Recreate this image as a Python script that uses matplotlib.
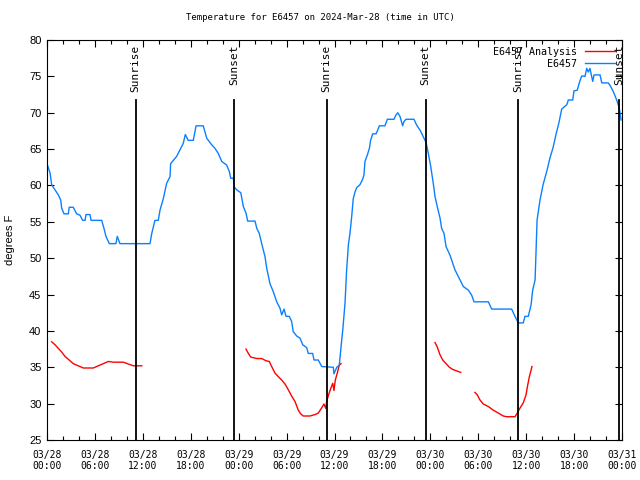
import numpy as np
import matplotlib
matplotlib.use("Agg")
import matplotlib.pyplot as plt
import matplotlib.dates as mdates
import matplotlib.transforms as mtransforms

# all times are hours after 2024-03-28 00:00 UTC
obs_hours = [0.0, 0.38, 0.59, 1.00, 1.41, 1.72, 1.84, 2.13, 2.67, 2.79, 3.29, 3.72, 4.13, 4.47,
             4.76, 4.88, 5.38, 5.51, 6.85, 7.14, 7.39, 7.80, 8.64, 8.80, 9.14, 12.90, 13.11,
             13.52, 13.94, 14.15, 14.56, 14.99, 15.40, 15.49, 16.24, 16.65, 17.07, 17.32, 17.69,
             18.32, 18.66, 19.57, 20.00, 20.62, 21.04, 21.45, 21.88, 22.50, 22.83, 23.00, 23.33,
             23.45, 23.75, 24.26, 24.58, 24.92, 25.13, 26.05, 26.26, 26.58, 26.88, 27.30, 27.51,
             27.92, 28.34, 28.76, 29.18, 29.39, 29.68, 29.93, 30.34, 30.64, 30.84, 31.27, 31.68,
             32.02, 32.52, 32.72, 33.27, 33.43, 33.97, 34.40, 35.85, 35.94, 36.28, 36.60, 36.81,
             37.03, 37.32, 37.50, 37.73, 37.94, 38.15, 38.35, 38.57, 38.78, 39.19, 39.48, 39.69,
             39.82, 40.11, 40.36, 40.53, 40.78, 41.20, 41.36, 41.61, 42.32, 42.61, 43.45, 43.70,
             43.91, 44.20, 44.54, 44.70, 44.95, 45.95, 46.29, 46.71, 47.12, 47.46, 47.75, 48.05,
             48.37, 48.58, 48.87, 49.21, 49.42, 49.71, 49.96, 50.25, 50.46, 50.80, 51.09, 51.50,
             51.72, 52.13, 52.76, 53.18, 53.47, 55.26, 55.69, 58.19, 58.60, 59.02, 59.64, 59.85,
             60.27, 60.61, 60.82, 61.11, 61.36, 61.73, 62.11, 62.61, 62.99, 63.36, 63.74, 64.12,
             64.45, 65.08, 65.28, 65.83, 65.99, 66.40, 66.65, 66.95, 67.37, 67.58, 67.78, 67.99,
             68.33, 68.50, 69.25, 69.46, 70.29, 70.59, 70.91, 71.34, 71.66, 71.88]
obs_temp = [63.0, 61.7, 60.1, 59.4, 58.7, 58.0, 56.9, 56.1, 56.1, 57.0, 57.0, 56.1, 55.9, 55.2,
            55.2, 56.0, 56.0, 55.2, 55.2, 54.1, 53.0, 52.0, 52.0, 53.0, 52.0, 52.0, 53.4,
            55.2, 55.2, 56.6, 58.2, 60.3, 61.2, 63.0, 64.0, 64.9, 65.8, 67.0, 66.2,
            66.2, 68.2, 68.2, 66.5, 65.6, 65.1, 64.4, 63.3, 62.8, 61.9, 61.0, 61.0,
            59.8, 59.4, 59.0, 57.1, 56.2, 55.1, 55.1, 54.1, 53.4, 52.0, 50.2, 48.6,
            46.5, 45.4, 44.0, 43.1, 42.2, 43.0, 42.0, 42.0, 41.3, 39.9, 39.3, 39.0,
            38.1, 37.7, 36.9, 36.9, 36.0, 36.0, 35.1, 35.0, 34.1, 35.0, 35.3, 37.8,
            40.1, 43.8, 48.0, 51.8, 53.4, 55.7, 58.2, 59.1, 59.7, 60.1, 60.75, 61.4,
            63.3, 64.2, 65.1, 66.25, 67.1, 67.1, 67.5, 68.2, 68.2, 69.1, 69.1, 69.7,
            70.0, 69.5, 68.2, 68.8, 69.1, 69.1, 68.3, 67.6, 66.7, 65.9, 64.4, 62.6,
            60.3, 58.5, 57.1, 55.5, 54.1, 53.4, 51.6, 50.9, 50.4, 49.3, 48.4, 47.5,
            47.0, 46.1, 45.6, 44.9, 44.0, 44.0, 43.0, 43.0, 42.0, 41.1, 41.1, 42.0,
            42.0, 43.6, 45.6, 47.0, 55.25, 58.0, 60.1, 62.1, 63.8, 65.2, 67.0, 68.7,
            70.5, 71.1, 71.75, 71.75, 73.0, 73.1, 74.1, 75.05, 75.0, 76.1, 75.6, 76.1,
            74.3, 75.2, 75.2, 74.1, 74.1, 73.6, 72.9, 71.75, 70.6, 69.0]

# analysis series, nan marks the gaps
ana_hours = [0.59, 1.00, 1.41, 1.84, 2.25, 2.67, 3.29, 3.92, 4.55, 5.80, 6.42, 7.05, 7.68, 8.30,
             9.55, 10.18, 10.81, 11.86, 12.0,
             24.92, 25.21, 25.51, 26.26, 26.88, 27.42, 27.84, 28.14, 28.55, 28.96, 29.39, 29.80,
             30.22, 30.64, 31.05, 31.47, 31.77, 32.09, 32.93, 33.56, 33.97, 34.27, 34.69, 34.90,
             35.02, 35.31, 35.56, 35.78, 35.94, 36.10, 36.35, 36.60, 36.81, 37.0,
             48.58, 48.87, 49.21, 49.55, 49.96, 50.38, 50.80, 51.30, 51.80, 52.0,
             53.59, 53.88, 54.22, 54.63, 55.26, 55.89, 56.51, 57.14, 57.56, 58.60, 58.89, 59.23,
             59.64, 59.98, 60.15, 60.40, 60.73]
ana_temp = [38.5, 38.1, 37.6, 37.1, 36.5, 36.1, 35.5, 35.2, 34.9, 34.9, 35.2, 35.5, 35.8, 35.7,
            35.7, 35.45, 35.2, 35.2, np.nan,
            37.5, 36.9, 36.4, 36.2, 36.2, 35.9, 35.8, 35.1, 34.2, 33.7, 33.25, 32.7,
            31.9, 31.05, 30.3, 29.1, 28.6, 28.3, 28.3, 28.5, 28.7, 29.2, 29.95, 29.35,
            30.3, 31.4, 32.2, 32.8, 31.8, 33.25, 34.2, 35.3, 35.5, np.nan,
            38.4, 37.8, 36.7, 36.0, 35.5, 35.0, 34.7, 34.5, 34.3, np.nan,
            31.55, 31.2, 30.5, 29.95, 29.6, 29.1, 28.7, 28.3, 28.2, 28.2, 28.7, 29.4,
            30.1, 31.2, 32.3, 33.7, 35.1]

sun_hours = [11.1, 23.45, 35.02, 47.42, 59.0, 71.6]
sun_names = ["Sunrise", "Sunset", "Sunrise", "Sunset", "Sunrise", "Sunset"]

start = np.datetime64("2024-03-28T00:00")


def to_time(hours):
    return start + np.round(np.array(hours) * 60).astype("timedelta64[m]")


mono = "DejaVu Sans Mono"
fig = plt.figure(figsize=(6.4, 4.8), dpi=100)
ax = fig.add_axes([47 / 640, 40 / 480, 575 / 640, 400 / 480])

ax.plot(to_time(ana_hours), ana_temp, color="#ff0000", lw=1, label="E6457 Analysis")
ax.plot(to_time(obs_hours), obs_temp, color="#0a80ff", lw=1, label="E6457")

trans = mtransforms.blended_transform_factory(ax.transData, ax.transAxes)
for t, name in zip(to_time(sun_hours), sun_names):
    ax.axvline(t, ymin=0, ymax=0.85, color="black", lw=1.3)
    ax.text(t, 0.988, name, transform=trans, rotation=90, ha="center", va="top",
            fontsize=8, family=mono)

ax.set_xlim(start, start + np.timedelta64(72, "h"))
ax.set_ylim(25, 80)
ax.set_yticks(np.arange(25, 81, 5))
ax.xaxis.set_major_locator(mdates.HourLocator(byhour=[0, 6, 12, 18]))
ax.xaxis.set_minor_locator(mdates.HourLocator(interval=2))
ax.xaxis.set_major_formatter(mdates.DateFormatter("%m/%d\n%H:%M"))
ax.tick_params(which="both", direction="in", top=True, right=True, width=0.8)
ax.tick_params(which="major", length=5)
ax.tick_params(which="minor", length=3)
ax.tick_params(axis="x", pad=7)
ax.tick_params(axis="y", pad=4)
for lab in ax.get_xticklabels():
    lab.set_family(mono)
    lab.set_fontsize(7)
for lab in ax.get_yticklabels():
    lab.set_family("Liberation Sans")
    lab.set_fontsize(8)

ax.set_ylabel("degrees F", family="Liberation Sans", fontsize=8, labelpad=10)
fig.suptitle("Temperature for E6457 on 2024-Mar-28 (time in UTC)", family=mono,
             fontsize=6.5, y=1 - 13 / 480)

ax.legend(loc="upper right", frameon=False, markerfirst=False, handlelength=3.0,
          handletextpad=0.8, labelspacing=0.2, borderaxespad=0.3,
          prop={"family": mono, "size": 7.2})

fig.savefig("out.png", dpi=100)
